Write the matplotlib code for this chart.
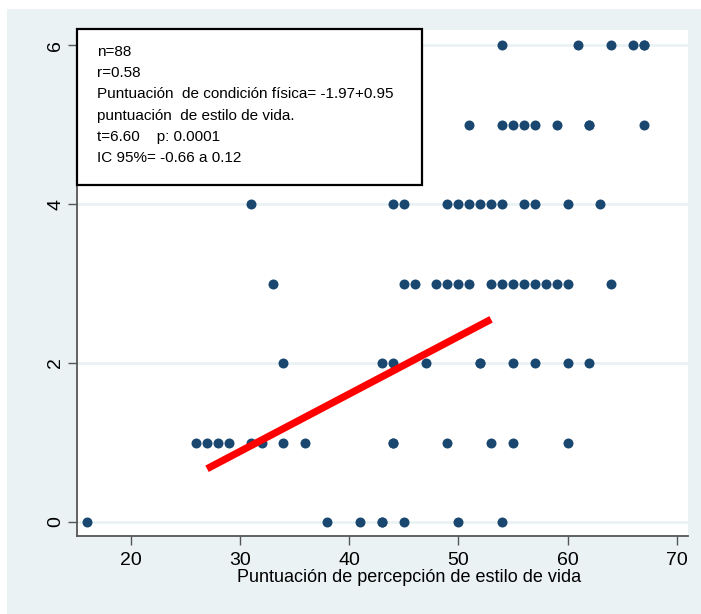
import matplotlib.pyplot as plt
from matplotlib.patches import Rectangle

# puntos por fila (condición física = y, estilo de vida = x)
y0_x = [16, 38, 41, 43, 43, 45, 50, 54]
y1_x = [26, 27, 28, 29, 31, 32, 34, 36, 44, 44, 49, 53, 55, 60]
y2_x = [34, 43, 44, 47, 52, 52, 55, 57, 60, 62]
y3_x = [33, 45, 46, 48, 49, 50, 51, 53, 54, 55, 56, 57, 58, 59, 60, 64]
y4_x = [31, 44, 45, 49, 50, 51, 52, 53, 54, 56, 57, 60, 63]
y5_x = [51, 54, 55, 56, 57, 59, 62, 62, 67]
y6_x = [54, 61, 64, 66, 67, 67]

fit_x = [27, 53]
fit_y = [0.67, 2.55]

x_ticks = [20, 30, 40, 50, 60, 70]
y_ticks = [0, 2, 4, 6]

info_lines = [
    "n=88",
    "r=0.58",
    "Puntuación  de condición física= -1.97+0.95",
    "puntuación  de estilo de vida.",
    "t=6.60    p: 0.0001",
    "IC 95%= -0.66 a 0.12",
]
x_label = "Puntuación de percepción de estilo de vida"

plt.rcParams['font.family'] = ['Liberation Sans', 'DejaVu Sans']

W, H = 701, 614
fig = plt.figure(figsize=(W / 100, H / 100), dpi=100)
fig.patch.set_facecolor('white')

# fondo gris azulado tipo Stata
fig.patches.append(Rectangle((7 / W, 0), 1 - 7 / W, 1 - 9 / H,
                             transform=fig.transFigure, facecolor='#eaf2f3',
                             edgecolor='none', zorder=-1))

left, right, top, bottom = 76.7, 687.7, 30, 535.7
ax = fig.add_axes([left / W, 1 - bottom / H, (right - left) / W, (bottom - top) / H])
ax.set_facecolor('white')

navy = '#1a476f'
rows = [y0_x, y1_x, y2_x, y3_x, y4_x, y5_x, y6_x]
for yv, xs in enumerate(rows):
    ax.plot(xs, [yv] * len(xs), 'o', color=navy, markersize=7.2,
            markeredgewidth=0, zorder=3)

ax.plot(fit_x, fit_y, color='#ff0000', linewidth=5.2, solid_capstyle='butt', zorder=4)

ax.set_xlim(15.07, 71.0)
ax.set_ylim(-0.172, 6.19)
ax.set_xticks(x_ticks)
ax.set_yticks(y_ticks)
ax.tick_params(axis='both', direction='out', length=6.8, width=1, color='#555555',
               labelsize=14)
ax.tick_params(axis='x', pad=5)
ax.tick_params(axis='y', pad=2)
for lab in ax.get_yticklabels():
    lab.set_rotation(90)
    lab.set_va('center')
ax.grid(axis='y', color='#eaf2f3', linewidth=2)
ax.set_axisbelow(True)

for s in ['top', 'right']:
    ax.spines[s].set_visible(False)
for s in ['left', 'bottom']:
    ax.spines[s].set_color('#555555')
    ax.spines[s].set_linewidth(1.3)

fig.text(409 / W, 1 - 578 / H, x_label, fontsize=13, ha='center', va='center')

# recuadro con estadísticos
fig.patches.append(Rectangle((77 / W, 1 - 185 / H), (422 - 77) / W, (185 - 29) / H,
                             transform=fig.transFigure, facecolor='white',
                             edgecolor='black', linewidth=1.6, zorder=5))
for i, line in enumerate(info_lines):
    fig.text(97 / W, 1 - (52 + i * 21.2) / H, line, fontsize=11,
             va='center', ha='left', zorder=6)

fig.savefig('out.png', dpi=100)
